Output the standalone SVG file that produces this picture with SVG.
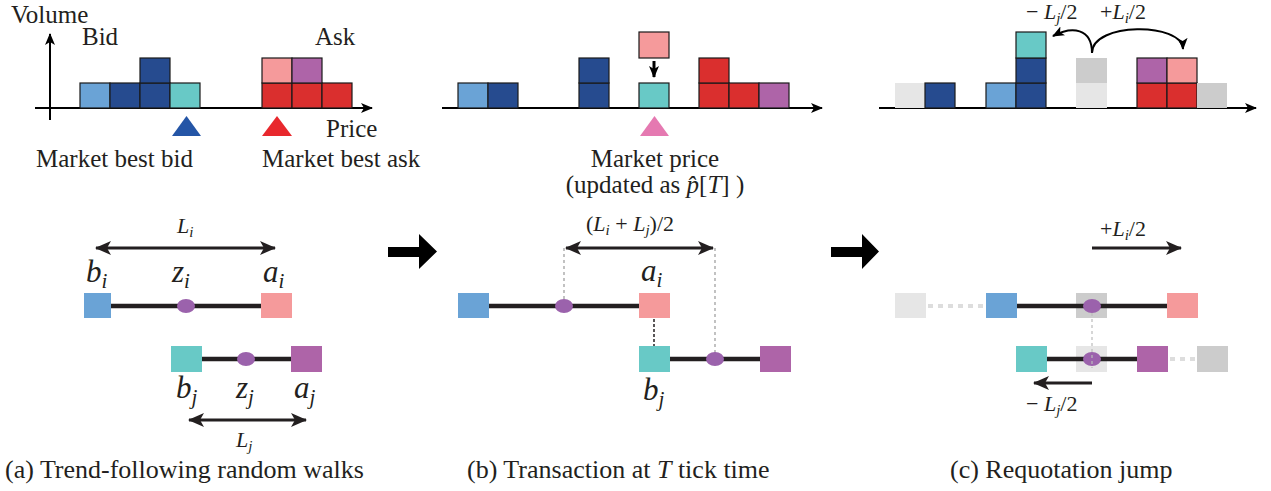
<svg xmlns="http://www.w3.org/2000/svg" width="1271" height="491" viewBox="0 0 1271 491" font-family="Liberation Serif, Times New Roman, serif">
<defs>
<style>
.t{font-size:25px;fill:#231f20}
.cap{font-size:26px;fill:#231f20}
.m{font-style:italic}
.big{font-size:31px;font-style:italic;fill:#231f20}
.sm{font-size:22px;fill:#231f20}
.ax{stroke:#000;stroke-width:2;fill:none}
.bx{stroke:#1a1a1a;stroke-width:1.2}
.lb{fill:#6aa3d6}.db{fill:#264b8f}.tl{fill:#68c9c6}.rd{fill:#da2f2e}.pk{fill:#f59a9b}.pu{fill:#ae64a8}
.g1{fill:#e6e6e6}.g2{fill:#cccccc}
.bar{stroke:#231f20;stroke-width:4.5}
.dot{fill:#9b62ac}
.gd{stroke:#999;stroke-width:1.2;stroke-dasharray:3,3;fill:none}
.gdot{stroke:#dddddd;stroke-width:4;stroke-dasharray:5,5;fill:none}
.arr{stroke:#231f20;stroke-width:3;fill:none}
</style>
<marker id="ah" viewBox="0 0 12 10" refX="11" refY="5" markerWidth="12" markerHeight="10" markerUnits="userSpaceOnUse" orient="auto-start-reverse">
<path d="M0,0 L12,5 L0,10 L3,5 z" fill="#000"/>
</marker>
<marker id="ah2" viewBox="0 0 16 14" refX="15" refY="7" markerWidth="16" markerHeight="14" markerUnits="userSpaceOnUse" orient="auto-start-reverse">
<path d="M0,0 L16,7 L0,14 L4,7 z" fill="#231f20"/>
</marker>
</defs>

<g id="connectors">
<line class="ax" x1="50" y1="120" x2="50" y2="34" marker-end="url(#ah)"/>
<line class="ax" x1="35" y1="108" x2="372" y2="108" marker-end="url(#ah)"/>
<line class="ax" x1="442" y1="108" x2="822" y2="108" marker-end="url(#ah)"/>
<line x1="654" y1="61" x2="654" y2="77" stroke="#000" stroke-width="3" marker-end="url(#ah)"/>
<line class="ax" x1="879" y1="108" x2="1256" y2="108" marker-end="url(#ah)"/>
<path class="ax" d="M1092,53 C1092,28 1072,26 1053,36" marker-end="url(#ah)"/>
<path class="ax" d="M1092,53 C1092,22 1182,22 1183,49" marker-end="url(#ah)"/>
<path d="M388,247 H419 V234 L437,251.5 L419,269 V257 H388 Z" fill="#000"/>
<path d="M831,247 H862 V234 L879,251.5 L862,269 V257 H831 Z" fill="#000"/>
<line class="arr" x1="96" y1="248" x2="275" y2="248" marker-start="url(#ah2)" marker-end="url(#ah2)"/>
<line class="arr" x1="189" y1="420" x2="306" y2="420" marker-start="url(#ah2)" marker-end="url(#ah2)"/>
<line class="gd" x1="564" y1="248" x2="564" y2="300"/>
<line class="gd" x1="715" y1="248" x2="715" y2="353"/>
<line class="arr" x1="566" y1="248" x2="713" y2="248" marker-start="url(#ah2)" marker-end="url(#ah2)"/>
<line x1="654" y1="319" x2="654" y2="346" stroke="#231f20" stroke-width="1.5" stroke-dasharray="3,2"/>
<line class="arr" x1="1092" y1="248" x2="1181" y2="248" marker-end="url(#ah2)"/>
<line class="arr" x1="1092" y1="383" x2="1034" y2="383" marker-end="url(#ah2)"/>
</g>

<g id="panel-a-top">
<rect class="bx lb" x="80" y="83" width="30" height="25"/>
<rect class="bx db" x="110" y="83" width="30" height="25"/>
<rect class="bx db" x="140" y="83" width="30" height="25"/>
<rect class="bx db" x="140" y="58" width="30" height="25"/>
<rect class="bx tl" x="170" y="83" width="30" height="25"/>
<rect class="bx rd" x="262" y="83" width="30" height="25"/>
<rect class="bx rd" x="292" y="83" width="30" height="25"/>
<rect class="bx rd" x="322" y="83" width="30" height="25"/>
<rect class="bx pk" x="262" y="58" width="30" height="25"/>
<rect class="bx pu" x="292" y="58" width="30" height="25"/>
<polygon points="172,136 186.5,116 201,136" fill="#2455a6"/>
<polygon points="262,136 277,116 292,136" fill="#e8282d"/>
<text class="t" x="11" y="23">Volume</text>
<text class="t" x="82" y="45">Bid</text>
<text class="t" x="315" y="45">Ask</text>
<text class="t" x="326" y="137">Price</text>
<text class="t" x="36" y="167">Market best bid</text>
<text class="t" x="262" y="167">Market best ask</text>
</g>

<g id="panel-b-top">
<rect class="bx lb" x="458" y="83" width="30" height="25"/>
<rect class="bx db" x="488" y="83" width="30" height="25"/>
<rect class="bx db" x="579" y="83" width="30" height="25"/>
<rect class="bx db" x="579" y="58" width="30" height="25"/>
<rect class="bx tl" x="639" y="83" width="30" height="25"/>
<rect class="bx pk" x="639" y="32" width="30" height="26"/>
<rect class="bx rd" x="699" y="83" width="30" height="25"/>
<rect class="bx rd" x="699" y="58" width="30" height="25"/>
<rect class="bx rd" x="729" y="83" width="30" height="25"/>
<rect class="bx pu" x="759" y="83" width="30" height="25"/>
<polygon points="640,136 654.5,116 669,136" fill="#e579b1"/>
<text class="t" x="655" y="167" text-anchor="middle">Market price</text>
<text class="t" x="655" y="193" text-anchor="middle">(updated as <tspan class="m">p̂</tspan>[<tspan class="m">T</tspan>] )</text>
</g>

<g id="panel-c-top">
<rect class="g1" x="895" y="83" width="30" height="25"/>
<rect class="bx db" x="925" y="83" width="30" height="25"/>
<rect class="bx lb" x="986" y="83" width="30" height="25"/>
<rect class="bx db" x="1016" y="83" width="30" height="25"/>
<rect class="bx db" x="1016" y="58" width="30" height="25"/>
<rect class="bx tl" x="1016" y="32" width="30" height="26"/>
<rect class="g1" x="1076" y="83" width="31" height="25"/>
<rect class="g2" x="1076" y="58" width="31" height="25"/>
<rect class="bx rd" x="1137" y="83" width="30" height="25"/>
<rect class="bx rd" x="1167" y="83" width="30" height="25"/>
<rect class="bx pu" x="1137" y="58" width="30" height="25"/>
<rect class="bx pk" x="1167" y="58" width="30" height="25"/>
<rect class="g2" x="1197" y="83" width="30" height="25"/>
<text class="sm" x="1026" y="19">− <tspan class="m">L</tspan><tspan class="m" font-size="15" dy="4">j</tspan><tspan dy="-4">/2</tspan></text>
<text class="sm" x="1100" y="19">+<tspan class="m">L</tspan><tspan class="m" font-size="15" dy="4">i</tspan><tspan dy="-4">/2</tspan></text>
</g>

<g id="panel-a-bottom">
<line class="bar" x1="111" y1="306" x2="261" y2="306"/>
<rect class="lb" x="84" y="293" width="27" height="25"/>
<rect class="pk" x="261" y="293" width="31" height="25"/>
<ellipse class="dot" cx="186" cy="306" rx="9" ry="7"/>
<line class="bar" x1="202" y1="359" x2="291" y2="359"/>
<rect class="tl" x="171" y="346" width="31" height="26"/>
<rect class="pu" x="291" y="346" width="31" height="26"/>
<ellipse class="dot" cx="246" cy="359" rx="9" ry="7"/>
<text class="sm" x="177" y="233"><tspan class="m">L</tspan><tspan class="m" font-size="15" dy="4">i</tspan></text>
<text class="sm" x="236" y="447"><tspan class="m">L</tspan><tspan class="m" font-size="15" dy="4">j</tspan></text>
<text class="big" x="86" y="282">b<tspan font-size="21" dy="6">i</tspan></text>
<text class="big" x="172" y="282">z<tspan font-size="21" dy="6">i</tspan></text>
<text class="big" x="263" y="282">a<tspan font-size="21" dy="6">i</tspan></text>
<text class="big" x="176" y="398">b<tspan font-size="21" dy="6">j</tspan></text>
<text class="big" x="236" y="398">z<tspan font-size="21" dy="6">j</tspan></text>
<text class="big" x="294" y="398">a<tspan font-size="21" dy="6">j</tspan></text>
</g>

<g id="panel-b-bottom">
<line class="bar" x1="489" y1="306" x2="639" y2="306"/>
<rect class="lb" x="458" y="293" width="31" height="25"/>
<rect class="pk" x="639" y="293" width="31" height="25"/>
<ellipse class="dot" cx="564" cy="306" rx="9" ry="7"/>
<line class="bar" x1="670" y1="359" x2="760" y2="359"/>
<rect class="tl" x="639" y="346" width="31" height="26"/>
<rect class="pu" x="760" y="346" width="31" height="26"/>
<ellipse class="dot" cx="715" cy="359" rx="9" ry="7"/>
<text class="sm" x="586" y="231">(<tspan class="m">L</tspan><tspan class="m" font-size="15" dy="4">i</tspan><tspan dy="-4"> + </tspan><tspan class="m">L</tspan><tspan class="m" font-size="15" dy="4">j</tspan><tspan dy="-4">)/2</tspan></text>
<text class="big" x="641" y="281">a<tspan font-size="21" dy="6">i</tspan></text>
<text class="big" x="643" y="400">b<tspan font-size="21" dy="6">j</tspan></text>
</g>

<g id="panel-c-bottom">
<rect class="g1" x="895" y="293" width="31" height="25"/>
<line class="gdot" x1="928" y1="306" x2="986" y2="306"/>
<rect class="g2" x="1076" y="293" width="31" height="25"/>
<line class="bar" x1="1017" y1="306" x2="1167" y2="306"/>
<rect class="lb" x="986" y="293" width="31" height="25"/>
<rect class="pk" x="1167" y="293" width="31" height="25"/>
<rect class="g1" x="1076" y="346" width="31" height="26"/>
<line class="bar" x1="1047" y1="359" x2="1137" y2="359"/>
<rect class="tl" x="1016" y="346" width="31" height="26"/>
<rect class="pu" x="1137" y="346" width="31" height="26"/>
<line class="gdot" x1="1170" y1="359" x2="1197" y2="359"/>
<rect class="g2" x="1197" y="346" width="31" height="26"/>
<ellipse class="dot" cx="1092" cy="306" rx="9" ry="7"/>
<ellipse class="dot" cx="1092" cy="359" rx="9" ry="7"/>
<line x1="1092" y1="313" x2="1092" y2="368" stroke="#bbb" stroke-width="1.2" stroke-dasharray="3,3"/>
<text class="sm" x="1100" y="236">+<tspan class="m">L</tspan><tspan class="m" font-size="15" dy="4">i</tspan><tspan dy="-4">/2</tspan></text>
<text class="sm" x="1026" y="411">− <tspan class="m">L</tspan><tspan class="m" font-size="15" dy="4">j</tspan><tspan dy="-4">/2</tspan></text>
</g>

<g id="captions">
<text class="cap" x="5" y="478">(a) Trend-following random walks</text>
<text class="cap" x="467" y="478">(b) Transaction at <tspan class="m">T</tspan> tick time</text>
<text class="cap" x="950" y="478">(c) Requotation jump</text>
</g>
</svg>
